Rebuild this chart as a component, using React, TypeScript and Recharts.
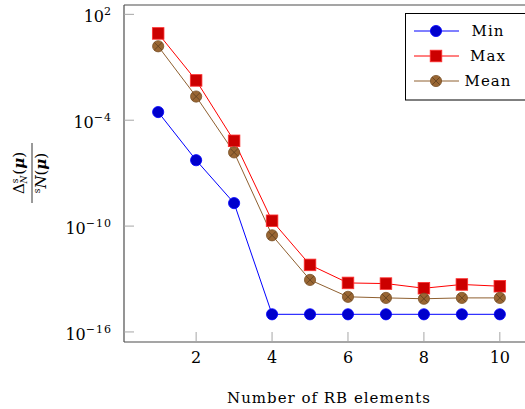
import React from 'react';
import { LineChart, Line, XAxis, YAxis } from 'recharts';

// number of RB elements
const rbElements = [1, 2, 3, 4, 5, 6, 7, 8, 9, 10];

// relative error estimates
const minValues = [2.9e-4, 5.4e-7, 2.0e-9, 1.0e-15, 1.0e-15, 1.0e-15, 1.0e-15, 1.0e-15, 1.0e-15, 1.0e-15];
const maxValues = [8.3, 1.8e-2, 6.8e-6, 2.0e-10, 6.3e-13, 6.0e-14, 5.5e-14, 3.0e-14, 4.9e-14, 3.9e-14];
const meanValues = [1.55, 2.2e-3, 1.5e-6, 3.0e-11, 8.9e-14, 9.8e-15, 8.5e-15, 7.6e-15, 8.5e-15, 8.5e-15];

const xTicks = [2, 4, 6, 8, 10];
const yTicks = [1e2, 1e-4, 1e-10, 1e-16];

const data = rbElements.map((n, i) => ({
    n,
    min: minValues[i],
    max: maxValues[i],
    mean: meanValues[i],
}));

const FONT = '"DejaVu Serif", serif';
const TICK_COLOR = '#a6a6a6';
const FRAME_COLOR = '#4d4d4d';

const YTick = (props: any) => {
    const { x, y, payload } = props;
    const exp = Math.round(Math.log10(payload.value));
    const expText = exp < 0 ? `\u2212${Math.abs(exp)}` : `${exp}`;
    return (
        <text x={x} y={y + 8} textAnchor="end" fontFamily={FONT} fontSize={16} fill="#000">
            10<tspan fontSize={11} dy={-7} letterSpacing={1}>{expText}</tspan>
        </text>
    );
};

const XTick = (props: any) => {
    const { x, y, payload } = props;
    return (
        <text x={x} y={y} dy="0.72em" textAnchor="middle" fontFamily={FONT} fontSize={16} fill="#000">
            {payload.value}
        </text>
    );
};

const XLabel = () => (
    <text x={329} y={403} textAnchor="middle" fontFamily={FONT} fontSize={15} letterSpacing={1} fill="#000">
        Number of RB elements
    </text>
);

// rotated fraction: Δ^s_N(μ) / ^sN(μ)
const YLabel = () => (
    <g transform="translate(32,173) rotate(-90)">
        <line x1={-30} x2={30} y1={0} y2={0} stroke="#000" strokeWidth={0.8} />
        <text x={0} y={-8} textAnchor="middle" fontFamily={FONT} fontSize={15} fill="#000">
            Δ<tspan fontSize={9} dy={-6}>s</tspan>
            <tspan fontSize={9} dx={-5} dy={9} fontStyle="italic">N</tspan>
            <tspan dy={-3} dx={1}>(</tspan>
            <tspan fontWeight="bold" fontStyle="italic">μ</tspan>)
        </text>
        <text x={0} y={14} textAnchor="middle" fontFamily={FONT} fontSize={15} fill="#000">
            <tspan fontSize={9} dy={-6}>s</tspan>
            <tspan fontStyle="italic" dy={6}>N</tspan>(
            <tspan fontWeight="bold" fontStyle="italic">μ</tspan>)
        </text>
    </g>
);

const minDot = (p: any) => (
    <circle key={`min-${p.index}`} cx={p.cx} cy={p.cy} r={5.6} fill="#0000cc" stroke="#0000ff" strokeWidth={0.8} />
);

const maxDot = (p: any) => (
    <rect key={`max-${p.index}`} x={p.cx - 5.8} y={p.cy - 5.8} width={11.6} height={11.6}
        fill="#cc0000" stroke="#ff3030" strokeWidth={0.8} />
);

const MeanMark = ({ cx, cy }: { cx: number; cy: number }) => {
    const d = 5.3 * Math.SQRT1_2;
    return (
        <g>
            <circle cx={cx} cy={cy} r={5.6} fill="#996633" stroke="#7a5228" strokeWidth={0.8} />
            <line x1={cx - d} y1={cy - d} x2={cx + d} y2={cy + d} stroke="#5c3d1e" strokeWidth={0.8} />
            <line x1={cx - d} y1={cy + d} x2={cx + d} y2={cy - d} stroke="#5c3d1e" strokeWidth={0.8} />
        </g>
    );
};

const meanDot = (p: any) => <MeanMark key={`mean-${p.index}`} cx={p.cx} cy={p.cy} />;

const legendRows = [
    { name: 'Min', color: '#0000ff', y: 31 },
    { name: 'Max', color: '#ff0000', y: 56 },
    { name: 'Mean', color: '#8f6030', y: 81 },
];

const App: React.FC = () => {
    const yDomain = [Math.pow(10, -16.57), Math.pow(10, 2.53)];
    return (
        <div style={{ position: 'absolute', left: 0, top: 0, width: 525, height: 409, overflow: 'hidden', background: '#fff' }}>
            <LineChart width={560} height={409} data={data} margin={{ top: 4, right: 25, left: 0, bottom: 0 }}>
                <XAxis
                    dataKey="n" type="number" domain={[0.1, 10.9]} ticks={xTicks}
                    allowDataOverflow height={67}
                    tickSize={-10} tickMargin={19}
                    tickLine={{ stroke: TICK_COLOR }}
                    axisLine={{ stroke: FRAME_COLOR, strokeWidth: 1.2 }}
                    tick={<XTick />}
                    label={XLabel}
                />
                <XAxis
                    xAxisId="top" orientation="top" dataKey="n" type="number" domain={[0.1, 10.9]}
                    ticks={xTicks} allowDataOverflow height={1}
                    tickSize={-10} tick={false}
                    tickLine={{ stroke: TICK_COLOR }}
                    axisLine={{ stroke: FRAME_COLOR, strokeWidth: 1.2 }}
                />
                <YAxis
                    scale="log" type="number" domain={yDomain} ticks={yTicks}
                    allowDataOverflow width={124}
                    tickSize={-10} tickMargin={22}
                    tickLine={{ stroke: TICK_COLOR }}
                    axisLine={{ stroke: FRAME_COLOR, strokeWidth: 1.2 }}
                    tick={<YTick />}
                    label={YLabel}
                />
                <YAxis
                    yAxisId="right" orientation="right" scale="log" type="number" domain={yDomain}
                    ticks={yTicks} allowDataOverflow width={1}
                    tickSize={-10} tick={false}
                    tickLine={{ stroke: TICK_COLOR }}
                    axisLine={{ stroke: FRAME_COLOR, strokeWidth: 1.2 }}
                />
                <Line dataKey="min" name="Min" stroke="#0000ff" strokeWidth={1} dot={minDot} isAnimationActive={false} />
                <Line dataKey="max" name="Max" stroke="#ff0000" strokeWidth={1} dot={maxDot} isAnimationActive={false} />
                <Line dataKey="mean" name="Mean" stroke="#8f6030" strokeWidth={1} dot={meanDot} isAnimationActive={false} />
            </LineChart>
            <svg width={525} height={409} style={{ position: 'absolute', left: 0, top: 0, pointerEvents: 'none' }}>
                <rect x={405.5} y={13.5} width={121} height={86.5} fill="#fff" stroke="#000" strokeWidth={1} />
                {legendRows.map((r) => (
                    <g key={r.name}>
                        <line x1={414} x2={459} y1={r.y} y2={r.y} stroke={r.color} strokeWidth={1} />
                        {r.name === 'Min' && <circle cx={436} cy={r.y} r={5.6} fill="#0000cc" stroke="#0000ff" strokeWidth={0.8} />}
                        {r.name === 'Max' && <rect x={430.2} y={r.y - 5.8} width={11.6} height={11.6} fill="#cc0000" stroke="#ff3030" strokeWidth={0.8} />}
                        {r.name === 'Mean' && <MeanMark cx={436} cy={r.y} />}
                        <text x={488} y={r.y + 5} textAnchor="middle" fontFamily={FONT} fontSize={15} letterSpacing={1} fill="#000">
                            {r.name}
                        </text>
                    </g>
                ))}
            </svg>
        </div>
    );
};

export default App;
